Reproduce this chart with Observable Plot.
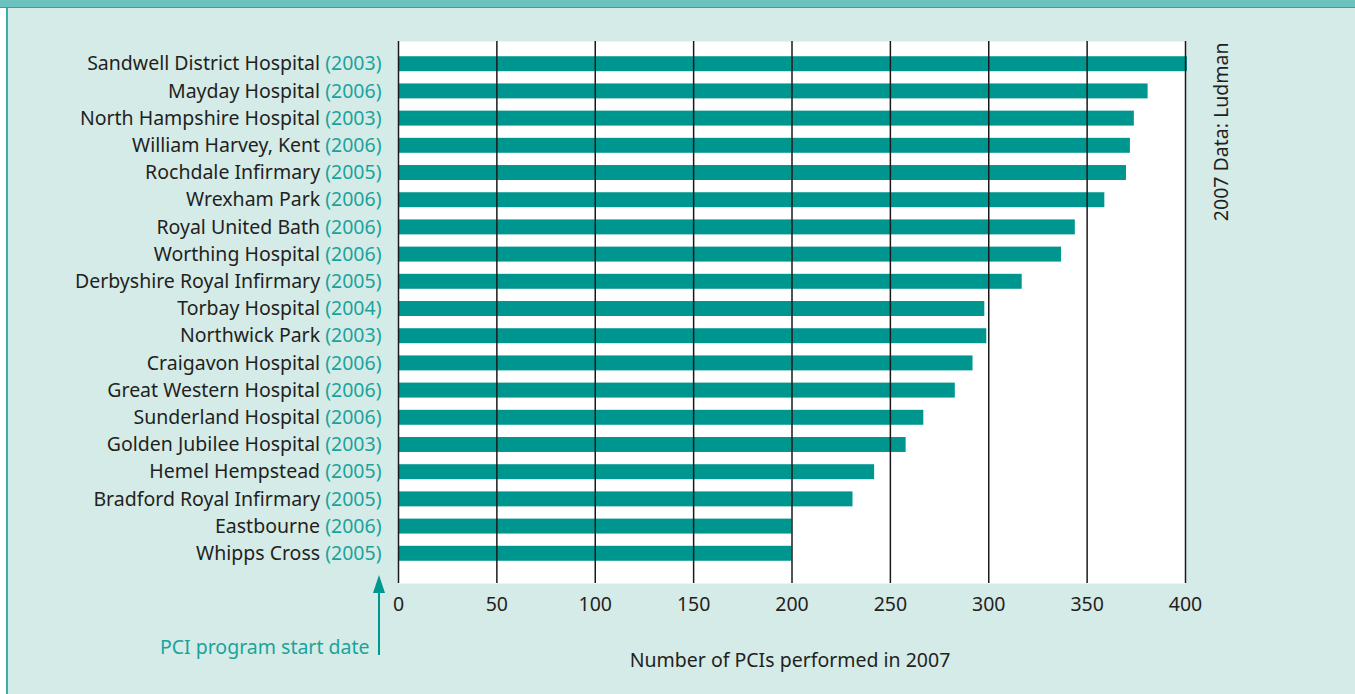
<!DOCTYPE html>
<html><head><meta charset="utf-8">
<script src="https://cdn.jsdelivr.net/npm/d3@7"></script>
<script src="https://cdn.jsdelivr.net/npm/@observablehq/plot@0.6"></script>
<style>
html,body{margin:0;padding:0;background:#ffffff;}
#wrap{position:relative;width:1355px;height:694px;overflow:hidden;background:#ffffff;}
#panel{position:absolute;left:6px;top:0;width:1349px;height:694px;background:#d5ebe8;border-left:2px solid #3aaea6;box-sizing:border-box;}
#topband{position:absolute;left:0;top:0;width:1355px;height:7px;background:#6cc3bd;border-bottom:1px solid #2aa69d;z-index:2;}
#chart{position:absolute;left:0;top:0;z-index:1;}
</style></head>
<body>
<div id="wrap"><div id="panel"></div><div id="topband"></div><div id="chart"></div></div>
<script>
const hospitals = ["Sandwell District Hospital","Mayday Hospital","North Hampshire Hospital","William Harvey, Kent","Rochdale Infirmary","Wrexham Park","Royal United Bath","Worthing Hospital","Derbyshire Royal Infirmary","Torbay Hospital","Northwick Park","Craigavon Hospital","Great Western Hospital","Sunderland Hospital","Golden Jubilee Hospital","Hemel Hempstead","Bradford Royal Infirmary","Eastbourne","Whipps Cross"];
const startYears = [2003,2006,2003,2006,2005,2006,2006,2006,2005,2004,2003,2006,2006,2006,2003,2005,2005,2006,2005];
const pcis = [401,381,374,372,370,359,344,337,317,298,299,292,283,267,258,242,231,200,200];
const xTicks = [0,50,100,150,200,250,300,350,400];
const xLabel = "Number of PCIs performed in 2007";
const startLabel = "PCI program start date";
const sourceLabel = "2007 Data: Ludman";

const teal = "#009690";
const tealText = "#1aa39b";
const ink = "#231f20";
const FS = 19.5;
const W = 1355, H = 694, mL = 398, mR = 170, mT = 41, mB = 111;

const data = hospitals.map((h, i) => ({name: h, year: startYears[i], value: pcis[i]}));

function arrowMark() {
  const x = mL - 19, yb = H - mB;
  const g = d3.create("svg:g");
  g.append("line").attr("x1", x).attr("x2", x).attr("y1", yb + 72).attr("y2", yb + 6)
    .attr("stroke", teal).attr("stroke-width", 2);
  g.append("path").attr("d", `M${x},${yb - 8}L${x - 6},${yb + 10}L${x + 6},${yb + 10}Z`).attr("fill", teal);
  return g.node();
}

const svg = Plot.plot({
  width: W, height: H,
  marginLeft: mL, marginRight: mR, marginTop: mT, marginBottom: mB,
  style: {background: "transparent", fontFamily: "'Noto Sans', sans-serif", fontSize: FS + "px", color: ink},
  x: {domain: [0, 400], ticks: xTicks},
  y: {domain: hospitals, padding: 0.45, insetTop: 3, insetBottom: 10, round: false},
  marks: [
    Plot.frame({fill: "white", stroke: null}),
    Plot.barX(data, {x: "value", y: "name", fill: teal}),
    Plot.gridX(xTicks, {stroke: "#1a1a1a", strokeOpacity: 1, strokeWidth: 1.5}),
    Plot.axisX({ticks: xTicks, tickSize: 0, tickPadding: 14, fontSize: FS, label: null, fill: ink}),
    Plot.axisY({tickSize: 0, tickPadding: 17, fontSize: FS, label: null, fill: ink}),
    Plot.text([xLabel], {frameAnchor: "bottom", dx: -2, dy: 83, fontSize: FS, fill: ink}),
    Plot.text([startLabel], {frameAnchor: "bottom-left", dx: -29, dy: 70, textAnchor: "end", fontSize: FS, fill: tealText}),
    Plot.text([sourceLabel], {frameAnchor: "top-right", rotate: -90, textAnchor: "end", dx: 29, dy: 1, fontSize: FS, fill: ink}),
    arrowMark
  ]
});

const yearOf = new Map(data.map(d => [d.name, d.year]));
d3.select(svg).selectAll('g[aria-label="y-axis tick label"] text').each(function() {
  const t = d3.select(this);
  const name = t.text();
  if (!yearOf.has(name)) return;
  t.text(name + " ");
  t.append("tspan").attr("fill", tealText).text(`(${yearOf.get(name)})`);
});

document.getElementById("chart").appendChild(svg);
</script>
</body></html>
